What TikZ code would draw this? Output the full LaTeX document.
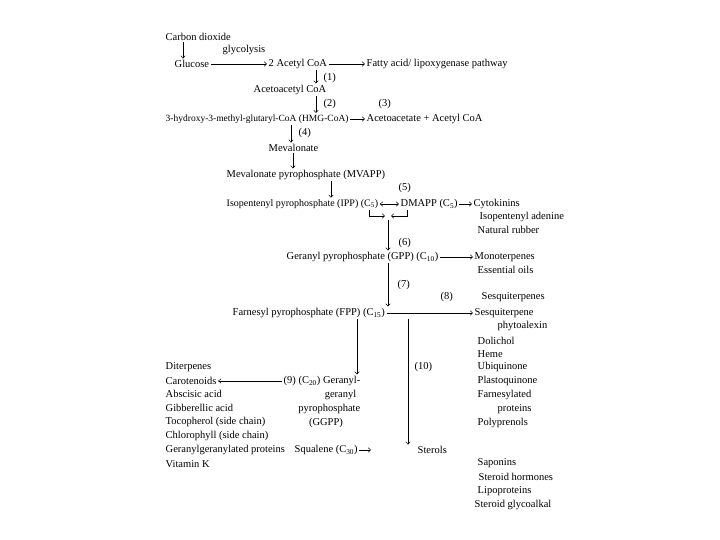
\documentclass[tikz,border=0pt]{standalone}
\usepackage{fontspec}
\setmainfont{Liberation Serif}
\usetikzlibrary{arrows.meta, positioning, calc}

\begin{document}
\begin{tikzpicture}[x=1pt, y=-1pt,
  txt/.style={anchor=west, inner sep=0.5pt, font=\fontsize{10.5}{12}\selectfont},
  conn/.style={->, >={Straight Barb[length=2.5pt,width=4.5pt]}, line width=0.5pt, shorten <=1pt, shorten >=1pt}]
  \useasboundingbox (0,0) rectangle (720,540);
  % columns of the vertical arrows
  \coordinate (a0) at (183,0);
  \coordinate (a1) at (316,0);
  \coordinate (a4) at (291,0);
  \coordinate (a5) at (293,0);
  \coordinate (a6) at (331,0);
  \coordinate (bl) at (369,0);
  \coordinate (br) at (407,0);
  \coordinate (midl) at (386,216);
  \coordinate (midr) at (390,216);
  \coordinate (midb) at (388,219);
  \coordinate (c9) at (357,0);
  \coordinate (c10) at (408,0);
  \coordinate (sqend) at (372,450);
  % top: glucose to HMG-CoA
  \node[txt] (co2) at (165,37) {Carbon dioxide};
  \node[txt] (glyc) at (222,50) {glycolysis};
  \node[txt] (glc) at (174,64) {Glucose};
  \node[txt] (acoa) at (268,64) {2 Acetyl CoA};
  \node[txt] (fatty) at (366,64) {Fatty acid/ lipoxygenase pathway};
  \node[txt] (s1) at (323,78) {(1)};
  \node[txt] (aacoa) at (253,90) {Acetoacetyl CoA};
  \node[txt] (s2) at (323,104) {(2)};
  \node[txt] (s3) at (378,104) {(3)};
  \node[txt, font=\fontsize{9.5}{11}\selectfont] (hmg) at (165,119) {3-hydroxy-3-methyl-glutaryl-CoA (HMG-CoA)};
  \node[txt] (aceto) at (366,119) {Acetoacetate + Acetyl CoA};
  \node[txt] (s4) at (298,133) {(4)};
  \node[txt] (mva) at (268,148) {Mevalonate};
  \node[txt] (mvapp) at (226,175) {Mevalonate pyrophosphate (MVAPP)};
  % IPP and GPP
  \node[txt] (s5) at (398,188) {(5)};
  \node[txt, font=\fontsize{10}{12}\selectfont] (ipp) at (226,204) {Isopentenyl pyrophosphate (IPP) (C\textsubscript{5})};
  \node[txt] (dmapp) at (400,204) {DMAPP (C\textsubscript{5})};
  \node[txt] (cyto) at (473,204) {Cytokinins};
  \node[txt] (ipa) at (479,217) {Isopentenyl adenine};
  \node[txt] (rubber) at (477,230) {Natural rubber};
  \node[txt] (s6) at (398,243) {(6)};
  \node[txt] (gpp) at (286,257) {Geranyl pyrophosphate (GPP) (C\textsubscript{10})};
  \node[txt] (mono) at (474,257) {Monoterpenes};
  \node[txt] (oils) at (477,270) {Essential oils};
  % FPP and its products
  \node[txt] (s7) at (397,285) {(7)};
  \node[txt] (s8) at (440,297) {(8)};
  \node[txt] (sesq) at (481,297) {Sesquiterpenes};
  \node[txt] (fpp) at (232,313) {Farnesyl pyrophosphate (FPP) (C\textsubscript{15})};
  \node[txt] (phyto) at (474,313) {Sesquiterpene};
  \node[txt] (phyto2) at (497,326) {phytoalexin};
  \node[txt] (dol) at (477,341) {Dolichol};
  \node[txt] (heme) at (477,354) {Heme};
  \node[txt] (ubi) at (477,367) {Ubiquinone};
  \node[txt] (plasto) at (477,381) {Plastoquinone};
  \node[txt] (farn) at (477,395) {Farnesylated};
  \node[txt] (farn2) at (497,409) {proteins};
  \node[txt] (poly) at (477,423) {Polyprenols};
  \node[txt] (sap) at (477,463) {Saponins};
  \node[txt] (sth) at (478,477) {Steroid hormones};
  \node[txt] (lipo) at (477,491) {Lipoproteins};
  \node[txt] (sga) at (474,505) {Steroid glycoalkal};
  \node[txt] (s10) at (414,367) {(10)};
  \node[txt] (ggpp) at (283,381) {(9) (C\textsubscript{20}) Geranyl-};
  \node[txt, anchor=east] (ggpp2) at (357,395) {geranyl};
  \node[txt, anchor=east] (ggpp3) at (361,409) {pyrophosphate};
  \node[txt, anchor=center] (ggpp4) at (326,423) {(GGPP)};
  % left list
  \node[txt] (diter) at (165,367) {Diterpenes};
  \node[txt] (caro) at (165,381) {Carotenoids};
  \node[txt] (aba) at (165,394) {Abscisic acid};
  \node[txt] (ga) at (165,408) {Gibberellic acid};
  \node[txt] (toco) at (165,422) {Tocopherol (side chain)};
  \node[txt] (chl) at (165,436) {Chlorophyll (side chain)};
  \node[txt] (ggprot) at (165,450) {Geranylgeranylated proteins};
  \node[txt] (vitk) at (165,464) {Vitamin K};
  \node[txt] (squal) at (294,450) {Squalene (C\textsubscript{30})};
  \node[txt] (sterols) at (417,450) {Sterols};
  % arrows
  \draw[conn] (co2.south -| a0) -- (glc.north -| a0);
  \draw[conn] (glc.east) -- (acoa.west);
  \draw[conn] (acoa.east) -- (fatty.west);
  \draw[conn] (acoa.south -| a1) -- (aacoa.north -| a1);
  \draw[conn] (aacoa.south -| a1) -- (hmg.north -| a1);
  \draw[conn] (hmg.east) -- (aceto.west);
  \draw[conn] (hmg.south -| a4) -- (mva.north -| a4);
  \draw[conn] (mva.south -| a5) -- (mvapp.north -| a5);
  \draw[conn] (mvapp.south -| a6) -- (ipp.north -| a6);
  \draw[conn, <->] (ipp.east) -- (dmapp.west);
  \draw[conn] (dmapp.east) -- (cyto.west);
  \draw[conn] (ipp.south -| bl) |- (midl);
  \draw[conn] (dmapp.south -| br) |- (midr);
  \draw[conn] (midb) -- (gpp.north -| midb);
  \draw[conn] (gpp.east) -- (mono.west);
  \draw[conn] (gpp.south -| midb) -- (fpp.north -| midb);
  \draw[conn] (fpp.east) -- (phyto.west);
  \draw[conn] (fpp.south -| c9) -- (ggpp.north -| c9);
  \draw[conn] (fpp.south -| c10) -- (sterols.north -| c10);
  \draw[conn] (ggpp.west) -- (caro.east);
  \draw[conn] (squal.east) -- (sqend);
\end{tikzpicture}
\end{document}
